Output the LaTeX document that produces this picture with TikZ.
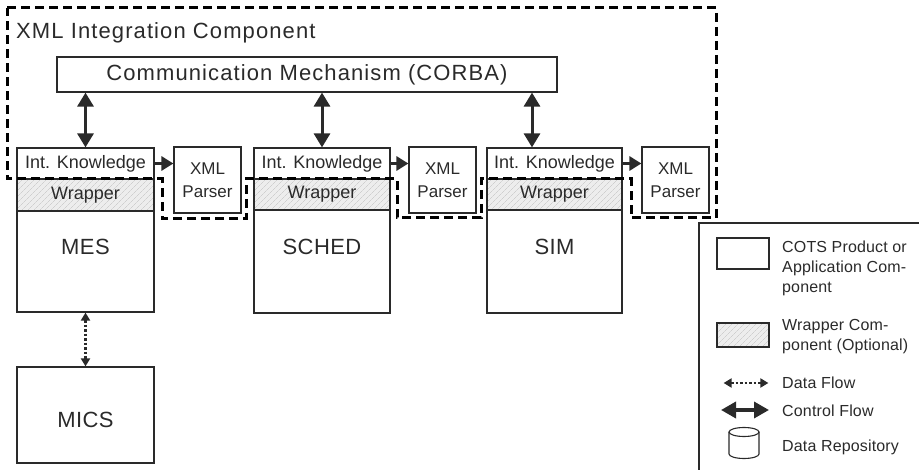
\documentclass[tikz,border=0pt]{standalone}
\usepackage{fontspec}
\setmainfont{Liberation Sans}
\newfontfamily\spfont{Liberation Sans}[LetterSpace=5]
\newfontfamily\spsmall{Liberation Sans}[LetterSpace=2]
\newfontfamily\splegend{Liberation Sans}[LetterSpace=1]
\usetikzlibrary{arrows.meta,patterns.meta}
\definecolor{ink}{HTML}{2A2A2A}
\begin{document}
\begin{tikzpicture}[x=1pt,y=-1pt,
  box/.style={draw=ink,line width=1.1pt,inner sep=0pt,outer sep=0pt,anchor=north west,text=ink,align=center},
  hatch/.style={box,preaction={fill=gray!14},pattern={Lines[angle=45,distance=4pt,line width=0.35pt]},pattern color=gray!50},
  iktext/.style={font=\fontsize{18}{20}\selectfont},
  xptext/.style={font=\fontsize{17}{23}\selectfont},
  apptext/.style={font=\spsmall\fontsize{22}{24}\selectfont,text=ink,anchor=center},
  bigtext/.style={font=\spfont\fontsize{22}{24}\selectfont,text=ink,inner sep=0pt},
  legtext/.style={font=\splegend\fontsize{16}{20}\selectfont,text=ink,inner sep=0pt,anchor=west,align=left},
  ctrl/.style={draw=ink,line width=3pt,{Triangle[length=14pt,width=16pt]}-{Triangle[length=14pt,width=16pt]},shorten <=0.6pt,shorten >=0.6pt},
  feed/.style={draw=ink,line width=3pt,-{Triangle[length=12pt,width=14pt]},shorten >=0.6pt},
  dataflow/.style={draw=ink,line width=2.4pt,dash pattern=on 2.5pt off 2pt,{Triangle[length=8pt,width=9pt]}-{Triangle[length=8pt,width=9pt]},shorten <=0.6pt,shorten >=0.6pt},
  dashzone/.style={draw=black,line width=3pt,dash pattern=on 9pt off 5pt}
]
\useasboundingbox (0,0) rectangle (919,470);
\clip (0,0) rectangle (919,470);

\node[bigtext,anchor=west] (title) at (16,33) {XML Integration Component};

\node[box,minimum width=500pt,minimum height=35pt] (comm) at (57,57) {};
\node[bigtext] (commt) at (comm.center) {Communication Mechanism (CORBA)};

% MES column
\node[box,iktext,minimum width=137pt,minimum height=31pt] (ik1) at (17,148) {Int. Knowledge};
\node[hatch,iktext,minimum width=137pt,minimum height=32pt] (wr1) at (17,179) {Wrapper};
\node[box,minimum width=137pt,minimum height=101pt,label={[apptext,yshift=-36pt]north:MES}] (app1) at (17,211) {};
\node[box,minimum width=137pt,minimum height=96pt,label={[apptext,yshift=-53pt]north:MICS}] (mics) at (17,367) {};

% SCHED column
\node[box,iktext,minimum width=136pt,minimum height=31pt] (ik2) at (254,148) {Int. Knowledge};
\node[hatch,iktext,minimum width=136pt,minimum height=31pt] (wr2) at (254,179) {Wrapper};
\node[box,minimum width=136pt,minimum height=103pt,label={[apptext,yshift=-37pt]north:SCHED}] (app2) at (254,210) {};

% SIM column
\node[box,iktext,minimum width=135pt,minimum height=31pt] (ik3) at (487,148) {Int. Knowledge};
\node[hatch,iktext,minimum width=135pt,minimum height=31pt] (wr3) at (487,179) {Wrapper};
\node[box,minimum width=135pt,minimum height=103pt,label={[apptext,yshift=-37pt]north:SIM}] (app3) at (487,210) {};

% outer dashed region (drawn over the column tops)
\draw[dashzone] (7,8) -- (716,8) -- (716,218) -- (631,218) -- (631,179) -- (481,179)
  -- (481,218) -- (397,218) -- (397,179) -- (246,179) -- (246,219) -- (162,219)
  -- (162,179) -- (7,179) -- cycle;

% XML parsers
\node[box,xptext,minimum width=67pt,minimum height=66pt] (xp1) at (174,147) {XML\\Parser};
\node[box,xptext,minimum width=67pt,minimum height=66pt] (xp2) at (409,147) {XML\\Parser};
\node[box,xptext,minimum width=67pt,minimum height=66pt] (xp3) at (642,147) {XML\\Parser};

% control flows
\draw[ctrl] (comm.south -| ik1.north) -- (ik1.north);
\draw[ctrl] (comm.south -| ik2.north) -- (ik2.north);
\coordinate (c3) at (532,0);
\draw[ctrl] (comm.south -| c3) -- (ik3.north -| c3);

% int. knowledge -> parser
\draw[feed] (ik1.east) -- (xp1.west |- ik1.east);
\draw[feed] (ik2.east) -- (xp2.west |- ik2.east);
\draw[feed] (ik3.east) -- (xp3.west |- ik3.east);

% data flow
\draw[dataflow] (app1.south) -- (mics.north);

% legend
\node[box,minimum width=240pt,minimum height=260pt] (legend) at (699,223) {};
\node[box,minimum width=52pt,minimum height=31pt] (lg1) at (717,238) {};
\node[legtext] (lt1) at (782,268.5) {COTS Product or\\Application Com-\\ponent};
\node[hatch,minimum width=52pt,minimum height=24pt] (lg2) at (717,323) {};
\node[legtext] (lt2) at (782,336.5) {Wrapper Com-\\ponent (Optional)};
\coordinate (d1) at (723,383);
\coordinate (d2) at (769,383);
\draw[dataflow,line width=2.2pt] (d1) -- (d2);
\node[legtext] (lt3) at (782,383) {Data Flow};
\coordinate (e1) at (721,410);
\coordinate (e2) at (769,410);
\draw[draw=ink,line width=3.5pt,{Triangle[length=15pt,width=16pt]}-{Triangle[length=15pt,width=16pt]}] (e1) -- (e2);
\node[legtext] (lt4) at (782,411) {Control Flow};
\draw[draw=ink,line width=1.1pt] (744,432) ellipse [x radius=15pt,y radius=4.5pt];
\draw[draw=ink,line width=1.1pt] (729,432) -- (729,454) arc[start angle=180,end angle=360,x radius=15pt,y radius=4.5pt] -- (759,432);
\node[legtext] (lt5) at (782,447) {Data Repository};
\end{tikzpicture}
\end{document}
